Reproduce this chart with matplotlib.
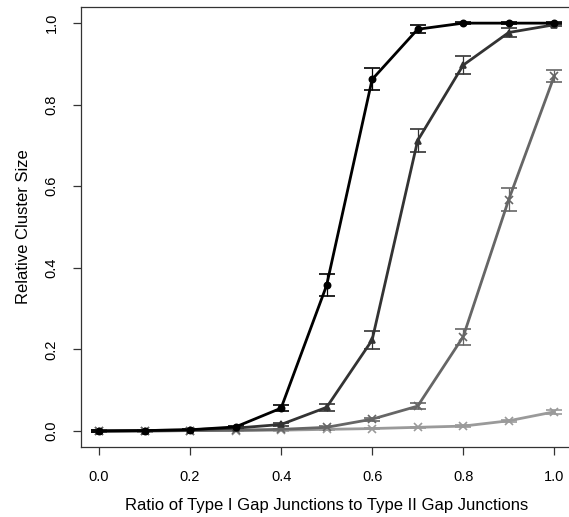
import matplotlib
matplotlib.use("Agg")
import matplotlib.pyplot as plt

plt.rcParams["font.family"] = ["Liberation Sans", "DejaVu Sans"]

ratio = [0.0, 0.1, 0.2, 0.3, 0.4, 0.5, 0.6, 0.7, 0.8, 0.9, 1.0]

# four series, darkest to lightest
size_a = [0.000, 0.001, 0.003, 0.010, 0.056, 0.357, 0.862, 0.985, 1.000, 1.000, 1.000]
err_a = [0.002, 0.002, 0.002, 0.003, 0.008, 0.027, 0.027, 0.010, 0.002, 0.002, 0.002]

size_b = [0.000, 0.001, 0.003, 0.007, 0.016, 0.058, 0.223, 0.712, 0.897, 0.977, 0.996]
err_b = [0.002, 0.002, 0.002, 0.002, 0.004, 0.008, 0.021, 0.029, 0.022, 0.010, 0.004]

size_c = [0.000, 0.000, 0.001, 0.002, 0.004, 0.009, 0.029, 0.061, 0.231, 0.567, 0.870]
err_c = [0.002, 0.002, 0.002, 0.002, 0.002, 0.003, 0.004, 0.007, 0.020, 0.028, 0.015]

size_d = [0.000, 0.000, 0.001, 0.001, 0.002, 0.004, 0.006, 0.009, 0.012, 0.025, 0.047]
err_d = [0.002, 0.002, 0.002, 0.002, 0.002, 0.002, 0.002, 0.002, 0.002, 0.003, 0.005]

xticks = [0.0, 0.2, 0.4, 0.6, 0.8, 1.0]
yticks = [0.0, 0.2, 0.4, 0.6, 0.8, 1.0]

fig = plt.figure(figsize=(5.69, 5.17), dpi=100)
# axes run a little past the right edge, like the cropped original
ax = fig.add_axes([0.142, 0.1348, 0.864, 0.852])

series = [
    (size_d, err_d, "#9a9a9a", "x"),
    (size_c, err_c, "#666666", "x"),
    (size_b, err_b, "#333333", "^"),
    (size_a, err_a, "#000000", "o"),
]
for ys, es, col, mk in series:
    ax.errorbar(ratio, ys, yerr=es, color=col, lw=2.0, marker=mk, ms=4.5 if mk != "x" else 6,
                mew=1.2, capsize=6, elinewidth=0.9, capthick=0.9, ecolor=col)

ax.set_xlim(-0.04, 1.04)
ax.set_ylim(-0.04, 1.04)
ax.set_xticks(xticks)
ax.set_yticks(yticks)
ax.set_xticklabels([f"{t:.1f}" for t in xticks])
ax.set_yticklabels([f"{t:.1f}" for t in yticks], rotation=90, va="center")
ax.tick_params(direction="out", length=6, width=0.9, labelsize=10.5, color="#333333")
ax.tick_params(axis="x", pad=10)
ax.tick_params(axis="y", pad=10)
for s in ax.spines.values():
    s.set_linewidth(0.9)
    s.set_color("#333333")

ax.set_xlabel("Ratio of Type I Gap Junctions to Type II Gap Junctions", fontsize=12)
ax.set_ylabel("Relative Cluster Size", fontsize=12)
ax.xaxis.set_label_coords(0.5, -0.116)
ax.yaxis.set_label_coords(-0.101, 0.5)

fig.savefig("out.png", dpi=100, facecolor="white")
